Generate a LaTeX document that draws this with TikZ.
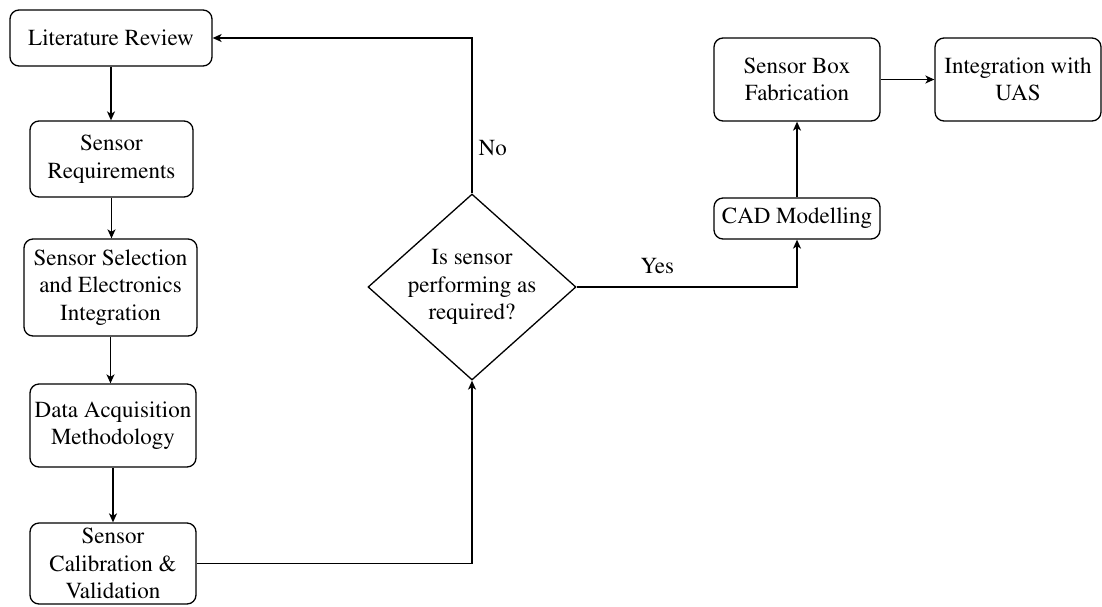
\documentclass[tikz,border=0pt]{standalone}
\usepackage[T1]{fontenc}
\usepackage{mathptmx}
\usetikzlibrary{arrows.meta,shapes.geometric}
\begin{document}
\begin{tikzpicture}[x=1pt,y=-1pt,
  txt/.style={font=\fontsize{23}{27.5}\selectfont, align=center},
  box/.style={txt, draw, rounded corners=9pt, line width=1.3pt, inner sep=0pt},
  decision/.style={diamond, draw, line width=1.3pt, inner sep=0pt},
  flow/.style={draw, line width=1.3pt, -{Stealth[length=9pt,width=8pt,inset=2.5pt]}},
  lbl/.style={txt, inner sep=0pt}
]
\useasboundingbox (0,0) rectangle (1102,606);

% left column of process steps
\node[box, minimum width=202pt, minimum height=56pt] (lit) at (111,38) {Literature Review};
\node[box, minimum width=163pt, minimum height=76pt] (req) at (111.5,159) {Sensor\\Requirements};
\node[box, minimum width=173pt, minimum height=97pt] (sel) at (110.5,287.5) {Sensor Selection\\and Electronics\\Integration};
\node[box, minimum width=166pt, minimum height=83pt] (daq) at (113,425.5) {Data Acquisition\\Methodology};
\node[box, minimum width=166pt, minimum height=81pt] (cal) at (113,563.5) {Sensor\\Calibration \&\\Validation};

% decision
\node[decision, minimum width=208pt, minimum height=186pt] (dec) at (472,287) {};
\node[lbl] (dectxt) at (dec.center) {Is sensor\\performing as\\required?};

% right branch
\node[box, minimum width=166pt, minimum height=41pt] (cad) at (797,218.5) {CAD Modelling};
\node[box, minimum width=166pt, minimum height=83pt] (fab) at (797,79.5) {Sensor Box\\Fabrication};
\node[box, minimum width=166pt, minimum height=83pt] (uas) at (1018,79.5) {Integration with\\UAS};

% connectors
\draw[flow] (lit.south) -- (lit.south |- req.north);
\draw[flow] (req.south) -- (req.south |- sel.north);
\draw[flow] (sel.south) -- (sel.south |- daq.north);
\draw[flow] (daq.south) -- (daq.south |- cal.north);
\draw[flow] (cal.east) -| (dec.south);
\draw[flow] (dec.north) |- node[lbl, pos=0.147, anchor=west, xshift=6pt] {No} (lit.east);
\draw[flow] (dec.east) -| node[lbl, pos=0.183, yshift=21pt] {Yes} (cad.south);
\draw[flow] (cad.north) -- (fab.south);
\draw[flow] (fab.east) -- (uas.west);
\end{tikzpicture}
\end{document}
